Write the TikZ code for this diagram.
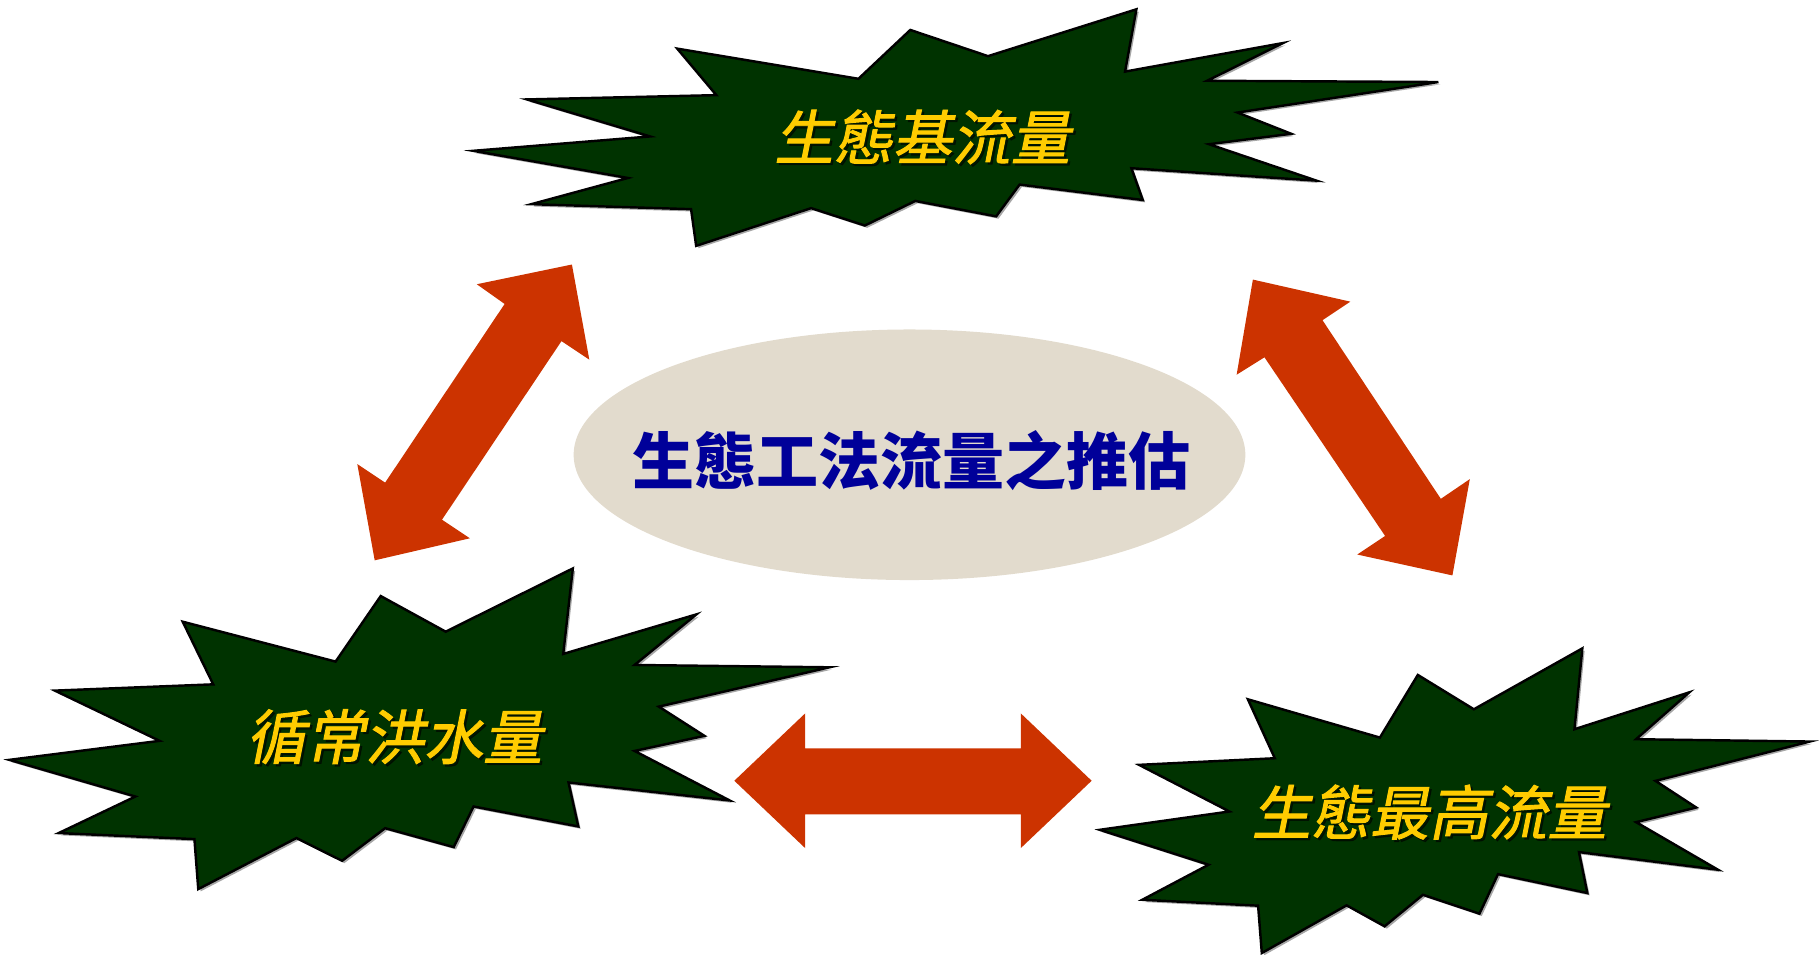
\documentclass[tikz,border=0pt]{standalone}
\usepackage{fontspec}
\newfontfamily\cjkit[FakeSlant=0.2,FakeBold=1.6]{Noto Sans CJK TC}
\newfontfamily\cjkb{Noto Sans CJK TC}
\definecolor{stargreen}{RGB}{0,51,0}
\definecolor{staryellow}{RGB}{255,204,0}
\definecolor{arrowred}{RGB}{204,51,0}
\definecolor{ovalfill}{RGB}{226,219,205}
\definecolor{titleblue}{RGB}{0,0,153}
\tikzset{
  starshape/.style={fill=stargreen, draw=black, line width=0.6pt},
  starshadow/.style={fill=black, opacity=0.35, draw=none},
  blockarrow/.style={fill=arrowred, draw=none},
  starlabel/.style={text=staryellow, inner sep=0pt, font=\cjkit\fontsize{14.5}{16}\selectfont},
  labelshadow/.style={text=black, opacity=0.55, inner sep=0pt, font=\cjkit\fontsize{14.5}{16}\selectfont},
  titletext/.style={text=titleblue, inner sep=0pt, font=\cjkb\bfseries\fontsize{15.2}{17}\selectfont}
}
\begin{document}
\begin{tikzpicture}[x=0.01cm,y=-0.01cm]
\useasboundingbox (0,0) rectangle (1568,823);
% ---------- top star ----------
\begin{scope}[shift={(2,2)}]
\fill[starshadow] (583.8,41.9) -- (740.0,67.9) -- (784.7,25.8) -- (851.7,48.4) -- (979.6,8.0) -- (969.8,61.7) -- (1105.9,37.1) -- (1040.6,69.6) -- (1239.9,70.7) -- (1066.7,97.0) -- (1113.0,115.3) -- (1042.2,124.3) -- (1134.8,155.7) -- (975.3,145.0) -- (985.1,172.4) -- (878.9,159.1) -- (858.7,186.5) -- (789.0,173.2) -- (745.5,194.4) -- (699.2,179.4) -- (600.1,211.9) -- (595.7,180.3) -- (458.0,176.0) -- (541.3,153.4) -- (407.9,130.0) -- (560.4,117.6) -- (454.2,85.7) -- (617.5,82.0) -- cycle;
\end{scope}
\draw[starshape] (583.8,41.9) -- (740.0,67.9) -- (784.7,25.8) -- (851.7,48.4) -- (979.6,8.0) -- (969.8,61.7) -- (1105.9,37.1) -- (1040.6,69.6) -- (1239.9,70.7) -- (1066.7,97.0) -- (1113.0,115.3) -- (1042.2,124.3) -- (1134.8,155.7) -- (975.3,145.0) -- (985.1,172.4) -- (878.9,159.1) -- (858.7,186.5) -- (789.0,173.2) -- (745.5,194.4) -- (699.2,179.4) -- (600.1,211.9) -- (595.7,180.3) -- (458.0,176.0) -- (541.3,153.4) -- (407.9,130.0) -- (560.4,117.6) -- (454.2,85.7) -- (617.5,82.0) -- cycle;
% ---------- bottom-left star ----------
\begin{scope}[shift={(2,2)}]
\fill[starshadow] (157.5,535.9) -- (289.3,570.3) -- (328.2,513.8) -- (384.2,544.5) -- (493.8,490.0) -- (485.5,563.7) -- (600.3,529.6) -- (547.0,573.2) -- (715.0,575.2) -- (567.9,609.1) -- (607.2,634.3) -- (547.0,647.3) -- (629.0,690.0) -- (490.1,674.5) -- (498.5,712.4) -- (408.2,695.2) -- (391.1,730.2) -- (332.0,713.9) -- (294.9,742.0) -- (255.5,722.4) -- (170.9,766.4) -- (167.6,723.3) -- (50.6,718.1) -- (116.7,686.6) -- (8.0,655.0) -- (137.6,638.6) -- (47.3,595.3) -- (183.8,589.9) -- cycle;
\end{scope}
\draw[starshape] (157.5,535.9) -- (289.3,570.3) -- (328.2,513.8) -- (384.2,544.5) -- (493.8,490.0) -- (485.5,563.7) -- (600.3,529.6) -- (547.0,573.2) -- (715.0,575.2) -- (567.9,609.1) -- (607.2,634.3) -- (547.0,647.3) -- (629.0,690.0) -- (490.1,674.5) -- (498.5,712.4) -- (408.2,695.2) -- (391.1,730.2) -- (332.0,713.9) -- (294.9,742.0) -- (255.5,722.4) -- (170.9,766.4) -- (167.6,723.3) -- (50.6,718.1) -- (116.7,686.6) -- (8.0,655.0) -- (137.6,638.6) -- (47.3,595.3) -- (183.8,589.9) -- cycle;
% ---------- bottom-right star ----------
\begin{scope}[shift={(2,2)}]
\fill[starshadow] (1075.7,602.8) -- (1189.5,635.8) -- (1222.2,581.8) -- (1270.5,611.4) -- (1364.0,558.9) -- (1357.2,628.6) -- (1456.2,596.8) -- (1410.3,637.2) -- (1560.0,639.2) -- (1427.0,673.1) -- (1462.2,696.1) -- (1410.3,708.7) -- (1480.9,749.7) -- (1361.1,734.5) -- (1368.3,769.8) -- (1291.3,753.5) -- (1275.3,787.6) -- (1226.6,771.3) -- (1193.5,798.5) -- (1160.8,780.4) -- (1087.7,821.5) -- (1084.5,780.7) -- (984.7,775.6) -- (1041.8,745.4) -- (948.0,715.3) -- (1059.8,699.5) -- (981.9,659.3) -- (1098.9,653.6) -- cycle;
\end{scope}
\draw[starshape] (1075.7,602.8) -- (1189.5,635.8) -- (1222.2,581.8) -- (1270.5,611.4) -- (1364.0,558.9) -- (1357.2,628.6) -- (1456.2,596.8) -- (1410.3,637.2) -- (1560.0,639.2) -- (1427.0,673.1) -- (1462.2,696.1) -- (1410.3,708.7) -- (1480.9,749.7) -- (1361.1,734.5) -- (1368.3,769.8) -- (1291.3,753.5) -- (1275.3,787.6) -- (1226.6,771.3) -- (1193.5,798.5) -- (1160.8,780.4) -- (1087.7,821.5) -- (1084.5,780.7) -- (984.7,775.6) -- (1041.8,745.4) -- (948.0,715.3) -- (1059.8,699.5) -- (981.9,659.3) -- (1098.9,653.6) -- cycle;
% ---------- star labels ----------
\node[labelshadow] at (797,120) {生態基流量};
\node[starlabel] (base) at (795,118) {生態基流量};
\node[labelshadow] at (342,637) {循常洪水量};
\node[starlabel] (flood) at (340,635) {循常洪水量};
\node[labelshadow] at (1234,702) {生態最高流量};
\node[starlabel] (peak) at (1232,700) {生態最高流量};
% ---------- central oval ----------
\fill[ovalfill] (784,392) ellipse [x radius=289.5, y radius=108];
\node[titletext] (title) at (786,397) {生態工法流量之推估};
% ---------- block arrows ----------
\fill[blockarrow] (493,228) -- (508,310) -- (484,294) -- (381,448) -- (405,464) -- (323,483) -- (308,400) -- (332,416) -- (435,262) -- (411,245) -- cycle;
\fill[blockarrow] (1080,241) -- (1164,260) -- (1140,276) -- (1242,430) -- (1267,413) -- (1252,496) -- (1170,478) -- (1194,462) -- (1090,308) -- (1066,323) -- cycle;
\fill[blockarrow] (633,673) -- (694,615) -- (694,645) -- (880,645) -- (880,615) -- (941,673) -- (880,731) -- (880,702) -- (694,702) -- (694,731) -- cycle;
\end{tikzpicture}
\end{document}
